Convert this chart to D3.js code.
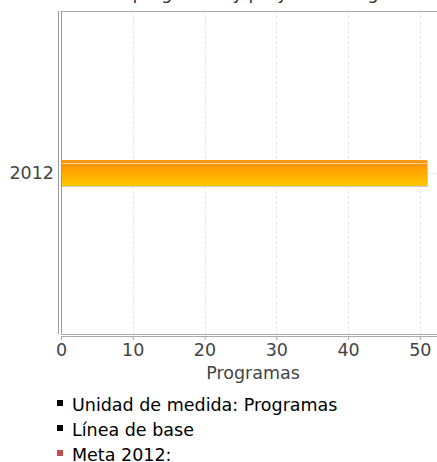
<!DOCTYPE html>
<html>
<head>
<meta charset="utf-8">
<script src="https://cdn.jsdelivr.net/npm/d3@7"></script>
<style>
  body { margin: 0; background: #fff; }
  svg { display: block; font-family: "DejaVu Sans", sans-serif; }
</style>
</head>
<body>
<svg id="chart" width="437" height="462"></svg>
<script>
// data
const categories = ['2012'];
const values = [51];
const xTicks = [0, 10, 20, 30, 40, 50];
const xTitle = 'Programas';
const legendItems = ['Unidad de medida: Programas', 'Línea de base', 'Meta 2012:'];
const legendColors = ['#000', '#000', '#c0504d'];
const title = 'Número de programas y proyectos de gestión integral';

const width = 437;
const height = 462;
const margin = { top: 11, right: 0, bottom: 127, left: 61 };
const fontSize = 17.5;

const svg = d3.select('#chart');

// gradient for the bar
const defs = svg.append('defs');
const grad = defs.append('linearGradient')
  .attr('id', 'barGrad')
  .attr('x1', 0).attr('y1', 0).attr('x2', 0).attr('y2', 1);
grad.append('stop').attr('offset', '0%').attr('stop-color', '#ff8c00');
grad.append('stop').attr('offset', '100%').attr('stop-color', '#ffc800');

const x = d3.scaleLinear()
  .domain([0, 52.4])
  .range([margin.left, width - margin.right]);

const y = d3.scaleBand()
  .domain(categories)
  .range([margin.top, height - margin.bottom])
  .padding(0.8515);

// title (cut off at top, like the reference)
svg.append('text')
  .attr('x', 30)
  .attr('y', -1.5)
  .attr('font-size', fontSize)
  .attr('fill', '#333')
  .text(title);

// grid lines
svg.append('g')
  .selectAll('line')
  .data(xTicks.slice(1))
  .join('line')
  .attr('x1', (d) => Math.round(x(d)) + 0.5)
  .attr('x2', (d) => Math.round(x(d)) + 0.5)
  .attr('y1', margin.top)
  .attr('y2', height - margin.bottom)
  .attr('stroke', '#e6e6e6')
  .attr('stroke-dasharray', '3,2');

svg.append('g')
  .selectAll('line')
  .data(categories)
  .join('line')
  .attr('x1', margin.left)
  .attr('x2', width)
  .attr('y1', (d) => y(d) + y.bandwidth() / 2 + 0.5)
  .attr('y2', (d) => y(d) + y.bandwidth() / 2 + 0.5)
  .attr('stroke', '#e6e6e6')
  .attr('stroke-dasharray', '3,2');

// plot frame
svg.append('line')
  .attr('x1', margin.left).attr('x2', width)
  .attr('y1', margin.top + 0.5).attr('y2', margin.top + 0.5)
  .attr('stroke', '#aaa');
svg.append('line')
  .attr('x1', margin.left - 3 + 0.5).attr('x2', margin.left - 3 + 0.5)
  .attr('y1', margin.top).attr('y2', height - margin.bottom - 1)
  .attr('stroke', '#999');
svg.append('line')
  .attr('x1', margin.left + 0.5).attr('x2', margin.left + 0.5)
  .attr('y1', margin.top).attr('y2', height - margin.bottom)
  .attr('stroke', '#999');
svg.append('line')
  .attr('x1', margin.left).attr('x2', width)
  .attr('y1', height - margin.bottom - 1 + 0.5).attr('y2', height - margin.bottom - 1 + 0.5)
  .attr('stroke', '#aaa');

// bars
const bars = svg.append('g');
categories.forEach((c, i) => {
  const y0 = y(c);
  const bw = y.bandwidth();
  const x1 = x(values[i]);
  bars.append('rect')
    .attr('x', x(0) + 1).attr('y', y0 + 1)
    .attr('width', x1 - x(0)).attr('height', bw)
    .attr('fill', '#ccc');
  bars.append('rect')
    .attr('x', x(0) + 1).attr('y', y0)
    .attr('width', x1 - x(0) - 1).attr('height', bw)
    .attr('fill', 'url(#barGrad)');
  bars.append('rect')
    .attr('x', x(0) + 1).attr('y', y0)
    .attr('width', x1 - x(0) - 1).attr('height', 2)
    .attr('fill', '#ff9a1a');
  bars.append('rect')
    .attr('x', x(0) + 1).attr('y', y0 + 3)
    .attr('width', x1 - x(0) - 1).attr('height', 1)
    .attr('fill', '#ffd9a0');
});

// x axis
const xAxisG = svg.append('g')
  .attr('transform', `translate(0,${height - margin.bottom + 1})`)
  .call(d3.axisBottom(x).tickValues(xTicks).tickSize(4).tickSizeOuter(0));
xAxisG.select('.domain')
  .attr('stroke', '#aaa');
xAxisG.selectAll('.tick line').attr('stroke', '#aaa');
xAxisG.selectAll('.tick text')
  .attr('font-size', fontSize)
  .attr('font-family', '"DejaVu Sans", sans-serif')
  .attr('fill', '#444')
  .attr('dy', '0.72em')
  .attr('y', 7);

// y axis labels
const yAxisG = svg.append('g')
  .attr('transform', `translate(${margin.left - 3},0)`)
  .call(d3.axisLeft(y).tickSize(0));
yAxisG.select('.domain').remove();
yAxisG.selectAll('.tick text')
  .attr('font-size', fontSize)
  .attr('font-family', '"DejaVu Sans", sans-serif')
  .attr('fill', '#444')
  .attr('x', -4);

// x title
svg.append('text')
  .attr('x', (x(0) + x(52.4)) / 2 + 4)
  .attr('y', 379)
  .attr('text-anchor', 'middle')
  .attr('font-size', fontSize)
  .attr('fill', '#444')
  .text(xTitle);

// legend
const legend = svg.append('g');
legendItems.forEach((t, i) => {
  const ly = 405 + i * 25;
  legend.append('rect')
    .attr('x', 57).attr('y', ly - 5)
    .attr('width', 6).attr('height', 6)
    .attr('fill', legendColors[i]);
  legend.append('text')
    .attr('x', 72).attr('y', ly + 6)
    .attr('font-size', fontSize)
    .attr('fill', '#000')
    .text(t);
});
</script>
</body>
</html>
